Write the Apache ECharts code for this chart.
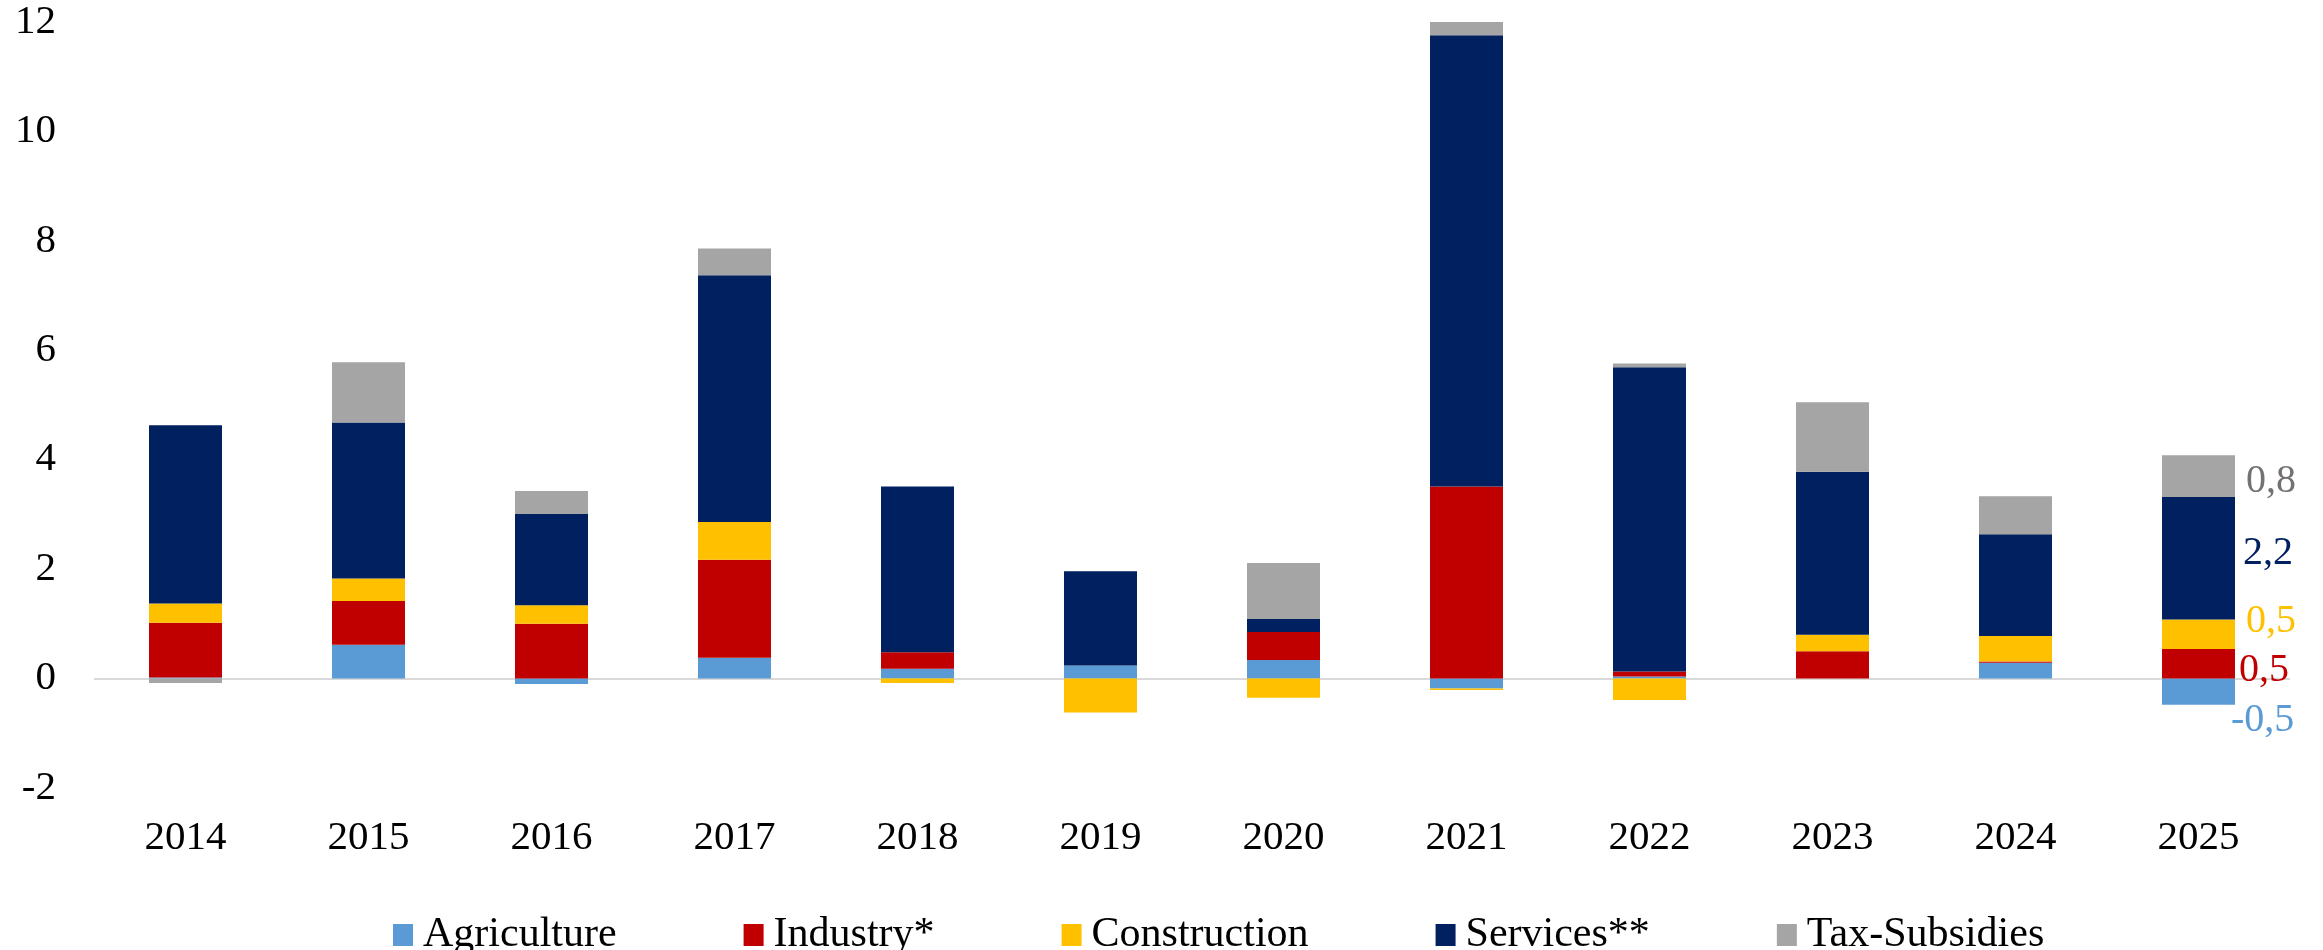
<!DOCTYPE html>
<html>
<head>
<meta charset="utf-8">
<script src="https://cdn.jsdelivr.net/npm/echarts@6/dist/echarts.min.js"></script>
<style>
  html, body { margin: 0; padding: 0; background: #fff; }
  #main { width: 2323px; height: 950px; }
</style>
</head>
<body>
<div id="main"></div>
<script>
const years = ['2014', '2015', '2016', '2017', '2018', '2019', '2020', '2021', '2022', '2023', '2024', '2025']
const agriculture = [0.02, 0.62, -0.1, 0.38, 0.18, 0.24, 0.34, -0.18, 0.04, 0, 0.29, -0.48]
const industry = [1.0, 0.8, 1.0, 1.79, 0.3, 0, 0.51, 3.51, 0.09, 0.5, 0.02, 0.54]
const construction = [0.35, 0.41, 0.34, 0.69, -0.08, -0.62, -0.35, -0.03, -0.39, 0.3, 0.47, 0.54]
const services = [3.26, 2.85, 1.67, 4.51, 3.03, 1.72, 0.24, 8.25, 5.56, 2.98, 1.86, 2.24]
const taxSubsidies = [-0.08, 1.1, 0.42, 0.49, 0, 0, 1.02, 0.25, 0.07, 1.27, 0.69, 0.76]
const yTicks = { min: -2, max: 12, interval: 2 }

const font = 'Liberation Serif'

// name, values, colour, label colour, label offset for the last bar
const sectors = [
  ['Agriculture', agriculture, '#5B9BD5', '#5B9BD5', [-4, 29]],
  ['Industry*', industry, '#C00000', '#C00000', [4, 7]],
  ['Construction', construction, '#FFC000', '#FFC000', [11, -13]],
  ['Services**', services, '#002060', '#002060', [8, -5]],
  ['Tax-Subsidies', taxSubsidies, '#A5A5A5', '#767171', [11, 5]]
]

const myChart = echarts.init(document.getElementById('main'))

const series = sectors.map(([name, values, color, labelColor, offset], k) => {
  const last = values.length - 1
  const s = {
    name: name,
    type: 'bar',
    stack: 'total',
    barWidth: 73,
    itemStyle: { color: color },
    data: values.map((v, i) => i !== last ? v : {
      value: v,
      label: {
        show: true,
        position: 'right',
        distance: 0,
        offset: offset,
        color: labelColor,
        fontFamily: font,
        fontSize: 40,
        formatter: p => p.value.toFixed(1).replace('.', ',')
      }
    })
  }
  if (k === 0) {
    // zero line
    s.markLine = {
      silent: true,
      symbol: 'none',
      label: { show: false },
      lineStyle: { color: '#D9D9D9', width: 2, type: 'solid' },
      data: [{ yAxis: 0 }],
      z: 1
    }
  }
  return s
})

const option = {
  animation: false,
  grid: {
    left: 94,
    right: 33,
    top: 22,
    bottom: 162
  },
  legend: {
    left: 388,
    top: 909,
    itemWidth: 20,
    itemHeight: 22,
    itemGap: 127,
    icon: 'rect',
    textStyle: {
      fontFamily: font,
      fontSize: 42,
      color: '#000',
      padding: [0, 0, 0, 5]
    },
    data: sectors.map(s => s[0])
  },
  xAxis: {
    type: 'category',
    data: years,
    axisLine: { show: false, onZero: false },
    axisTick: { show: false },
    axisLabel: {
      margin: 30,
      fontFamily: font,
      fontSize: 41,
      color: '#000'
    }
  },
  yAxis: {
    type: 'value',
    min: yTicks.min,
    max: yTicks.max,
    interval: yTicks.interval,
    axisLine: { show: false },
    axisTick: { show: false },
    splitLine: { show: false },
    axisLabel: {
      margin: 38,
      fontFamily: font,
      fontSize: 41,
      color: '#000'
    }
  },
  series: series
}

myChart.setOption(option)
</script>
</body>
</html>
